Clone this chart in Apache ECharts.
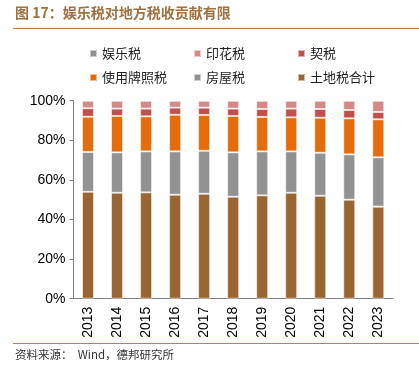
<!DOCTYPE html>
<html><head><meta charset="utf-8">
<script src="https://cdn.jsdelivr.net/npm/echarts@6/dist/echarts.min.js"></script>
<style>html,body{margin:0;padding:0;background:#fff}#c{width:419px;height:377px}</style>
</head><body><div id="c"></div>
<script>
const years = ['2013','2014','2015','2016','2017','2018','2019','2020','2021','2022','2023'];
const landTax      = [54.0,53.5,53.7,52.5,53.0,51.5,52.2,53.5,52.0,50.0,46.5]; // 土地税合计
const houseTax     = [20.1,20.4,20.7,21.9,21.7,22.4,22.2,20.9,21.7,22.9,24.9]; // 房屋税
const licenseTax   = [17.8,18.4,17.7,18.5,18.1,18.4,17.4,17.2,17.7,18.2,19.2]; // 使用牌照税
const deedTax      = [4.3,3.7,3.9,3.6,3.7,3.7,4.0,4.4,4.4,4.2,3.7];            // 契税
const stampTax     = [3.8,4.0,4.0,3.5,3.5,4.0,4.2,4.0,4.2,4.7,5.7];            // 印花税
const entertainTax = [0,0,0,0,0,0,0,0,0,0,0];                                  // 娱乐税
const yTicks = [0,20,40,60,80,100];

const CJK = '"Noto Sans CJK SC", sans-serif';
const chart = echarts.init(document.getElementById('c'), null, {renderer:'canvas'});
const border = {borderColor:'rgba(255,255,255,0.55)', borderWidth:1};
function s(name, data, color){
  return {name, type:'bar', stack:'t', data, barWidth:12,
    itemStyle:Object.assign({color}, border), emphasis:{disabled:true}};
}
chart.setOption({
  animation:false,
  textStyle:{fontFamily:'"Liberation Sans", Arial, sans-serif'},
  graphic:[
    {type:'text', left:15, top:6, style:{text:'图 17：娱乐税对地方税收贡献有限', font:'bold 14px '+CJK, fill:'#A0703F'}},
    {type:'line', shape:{x1:13,y1:28.5,x2:419,y2:28.5}, style:{stroke:'#B08457', lineWidth:1.2}},
    {type:'line', shape:{x1:13,y1:343.5,x2:419,y2:343.5}, style:{stroke:'#B08457', lineWidth:1.2}},
    {type:'text', left:15, top:349, style:{text:'资料来源：  Wind，德邦研究所', font:'11.5px '+CJK, fill:'#333'}}
  ],
  legend:{
    left:84, top:42, width:310, itemWidth:7, itemHeight:7, itemGap:11,
    icon:'rect',
    data:['娱乐税','印花税','契税','使用牌照税','房屋税','土地税合计'],
    textStyle:{fontFamily:CJK, fontSize:13, color:'#222', width:80, lineHeight:13}
  },
  grid:{left:73.5, top:100.7, width:319.3, height:198},
  xAxis:{type:'category', data:years, boundaryGap:true,
    axisLine:{lineStyle:{color:'#808080'}},
    axisTick:{interval:0, length:5, lineStyle:{color:'#808080'}},
    axisLabel:{rotate:90, fontSize:14, color:'#000', margin:8, interval:0}},
  yAxis:{type:'value', min:yTicks[0], max:yTicks[yTicks.length-1], interval:20,
    axisLine:{show:true, lineStyle:{color:'#808080'}},
    axisTick:{show:true, length:4, lineStyle:{color:'#808080'}},
    splitLine:{show:false},
    axisLabel:{formatter:'{value}%', fontSize:14, color:'#000', margin:8}},
  series:[
    s('土地税合计', landTax, '#996633'),
    s('房屋税', houseTax, '#929292'),
    s('使用牌照税', licenseTax, '#E46C0A'),
    s('契税', deedTax, '#C0504D'),
    s('印花税', stampTax, '#D58888'),
    s('娱乐税', entertainTax, '#8F8F8F')
  ]
});
</script></body></html>
